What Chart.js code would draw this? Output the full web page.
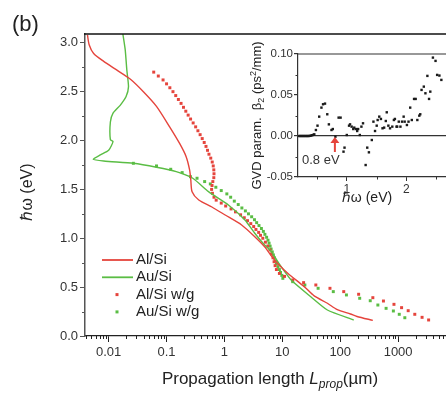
<!DOCTYPE html>
<html><head><meta charset="utf-8">
<script src="https://cdn.jsdelivr.net/npm/chart.js@4.4.0/dist/chart.umd.min.js"></script>
<style>
html,body{margin:0;padding:0;overflow:hidden;background:#fff;width:446px;height:394px;}
#main{position:absolute;left:0;top:0;}
#inset{position:absolute;left:240px;top:30px;}
</style></head><body>
<canvas id="main" width="460" height="394"></canvas>
<canvas id="inset" width="220" height="180"></canvas>
<script>
// ---------- DATA ----------
// Main plot: propagation length (µm) vs photon energy (eV)
const alSiL = [0.0043,0.0046,0.0055,0.0082,0.0139,0.0235,0.0398,0.067,0.113,0.168,0.218,0.25,0.262,0.276,0.36,0.607,1.03,1.98,3.34,5.0,6.44,8.4,12.4,23.9,35.5,60,89,150,195,366];
const alSiE = [3.08,2.98,2.89,2.81,2.72,2.63,2.50,2.35,2.14,1.97,1.835,1.70,1.60,1.477,1.392,1.32,1.238,1.136,1.016,0.91,0.82,0.74,0.642,0.505,0.41,0.335,0.27,0.225,0.20,0.16];

const auSiL = [0.0176,0.0193,0.0206,0.022,0.020,0.0158,0.0119,0.0107,0.0107,0.0119,0.010,0.0072,0.0054,0.0082,0.0267,0.067,0.147,0.284,0.53,1.17,2.26,3.34,4.64,6.44,9.55,14.2,31,60,171];
const auSiE = [3.09,2.93,2.72,2.55,2.45,2.36,2.28,2.19,2.01,1.99,1.90,1.853,1.808,1.79,1.767,1.727,1.682,1.614,1.477,1.341,1.187,1.051,0.949,0.863,0.709,0.573,0.402,0.266,0.164];

const alWgL = [0.060,0.072,0.087,0.100,0.114,0.129,0.144,0.160,0.178,0.196,0.215,0.236,0.260,0.288,0.318,0.348,0.380,0.413,0.447,0.48,0.51,0.54,0.58,0.615,0.64,0.655,0.66,0.655,0.63,0.61,0.60,0.62,0.66,0.72,0.88,1.05,1.3,1.55,1.9,2.2,2.5,2.85,3.2,3.5,3.9,4.2,4.6,5.1,5.6,6.1,6.5,6.9,7.2,7.5,7.9,8.9,10.9,15.1,23.3,37.9,66.5,115,208,366,558,848,1148,1493,1941,2594,3365];
const alWgE = [2.70,2.66,2.62,2.58,2.54,2.50,2.46,2.42,2.38,2.34,2.30,2.26,2.22,2.18,2.14,2.10,2.06,2.02,1.98,1.94,1.90,1.86,1.82,1.78,1.74,1.70,1.66,1.62,1.58,1.54,1.50,1.46,1.42,1.39,1.36,1.33,1.30,1.27,1.24,1.21,1.18,1.15,1.12,1.09,1.06,1.03,1.00,0.96,0.92,0.88,0.84,0.80,0.76,0.72,0.68,0.64,0.61,0.573,0.546,0.522,0.488,0.454,0.427,0.392,0.358,0.324,0.29,0.259,0.222,0.191,0.164];

const auWgL = [0.0267,0.067,0.118,0.186,0.259,0.336,0.455,0.57,0.71,0.88,1.10,1.28,1.48,1.73,2.0,2.3,2.6,2.95,3.3,3.6,3.95,4.35,4.7,5.0,5.35,5.65,5.9,6.15,6.4,6.7,7.0,7.3,7.6,7.9,8.4,8.9,9.3,9.8,10.2,15.1,24.5,41.5,75.9,128,217,330,447,620,828,1047,1306];
const auWgE = [1.767,1.74,1.706,1.672,1.63,1.614,1.58,1.556,1.522,1.488,1.454,1.42,1.38,1.345,1.31,1.28,1.25,1.22,1.19,1.16,1.13,1.10,1.07,1.04,1.01,0.98,0.95,0.92,0.89,0.86,0.83,0.80,0.77,0.74,0.71,0.68,0.65,0.62,0.59,0.556,0.522,0.488,0.454,0.42,0.386,0.361,0.317,0.283,0.256,0.222,0.187];

const seriesLabels = ['Al/Si','Au/Si','Al/Si w/g','Au/Si w/g'];
const xTickValues = [0.01,0.1,1,10,100,1000];
const yTickValues = [0,0.5,1,1.5,2,2.5,3];

// Inset: GVD parameter beta2 (ps^2/mm) vs photon energy (eV)
const gvdE = [0.20,0.22,0.24,0.26,0.28,0.30,0.32,0.34,0.36,0.38,0.40,0.42,0.44,0.454,0.481,0.508,0.536,0.574,0.601,0.634,0.672,0.699,0.743,0.765,0.809,0.863,0.896,0.945,0.962,1.0,1.038,1.055,1.082,1.109,1.126,1.153,1.175,1.191,1.219,1.246,1.273,1.317,1.344,1.372,1.421,1.448,1.475,1.503,1.519,1.546,1.574,1.601,1.628,1.656,1.672,1.699,1.727,1.765,1.792,1.809,1.836,1.847,1.874,1.902,1.929,1.956,1.973,2.011,2.038,2.066,2.093,2.131,2.158,2.186,2.219,2.235,2.257,2.295,2.322,2.355,2.383,2.404,2.448,2.492,2.519,2.557,2.590];
const gvdB = [0,0,0,0,0,0,0,0,0,0.0002,0.0005,0.001,0.0015,0.002,0.0073,0.0126,0.0236,0.0346,0.0387,0.0395,0.0265,0.0142,0.0073,0.0085,-0.0008,0.0224,0.0224,-0.0191,-0.0142,0.0012,0.0126,0.0142,0.0114,0.0085,0.0102,0.0085,0.0061,0.0085,0.0012,0.0114,0.0155,-0.0354,-0.0142,-0.0199,-0.0049,0.0175,0.0061,0.0126,0.0195,0.0236,0.0208,0.0094,0.0102,0.0183,0.0289,0.0126,0.0094,0.0114,0.0195,0.0208,0.0114,0.0114,0.0175,0.0114,0.0175,0.0236,0.0175,0.0134,0.0175,0.0346,0.0195,0.0452,0.0452,0.0195,0.0248,0.0265,0.0562,0.0602,0.0521,0.0733,0.0452,0.0541,0.0956,0.0916,0.0745,0.0737,0.0684];
const insetXTicks = [1,2];
const insetYTicks = [-0.05,0,0.05,0.10];
const markedEnergy = 0.8;

// ---------- STYLE ----------
const RED = '#e5443c', GREEN = '#5abd44';
const FONT = '"Liberation Sans", Arial, Helvetica, sans-serif';
Chart.defaults.font.family = FONT;
Chart.defaults.color = '#333';
const pairs = (xs, ys) => xs.map((v,i)=>({x:v, y:ys[i]}));

function drawPieces(ctx, pieces, cx, base) {
  let total = 0;
  pieces.forEach(p => { ctx.font = p.font; p.w = ctx.measureText(p.t).width; total += p.w; });
  let x = cx - total/2;
  ctx.textAlign = 'left'; ctx.textBaseline = 'alphabetic';
  pieces.forEach(p => { ctx.font = p.font; ctx.fillText(p.t, x, base + (p.dy||0)); x += p.w; });
}

const mainDecor = {
  id: 'mainDecor',
  afterDraw(chart) {
    const {ctx, chartArea:a, scales:{x, y}} = chart;
    ctx.save();
    // top frame
    ctx.strokeStyle = '#111'; ctx.lineWidth = 1.6;
    ctx.beginPath(); ctx.moveTo(a.left-1, a.top); ctx.lineTo(a.right, a.top); ctx.stroke();
    // minor ticks x
    ctx.lineWidth = 1; ctx.strokeStyle = '#222';
    for (let d = -3; d <= 4; d++) for (let m = 2; m <= 9; m++) {
      const v = m * Math.pow(10, d);
      if (v < x.min || v > x.max) continue;
      const px = Math.round(x.getPixelForValue(v)) + 0.5;
      ctx.beginPath(); ctx.moveTo(px, a.bottom); ctx.lineTo(px, a.bottom + 3); ctx.stroke();
    }
    // minor ticks y
    ctx.strokeStyle = '#555';
    for (let v = 0.25; v < y.max; v += 0.5) {
      const py = Math.round(y.getPixelForValue(v)) + 0.5;
      ctx.beginPath(); ctx.moveTo(a.left, py); ctx.lineTo(a.left - 3, py); ctx.stroke();
    }
    ctx.fillStyle = '#222';
    // y title
    ctx.save();
    ctx.translate(28, 192); ctx.rotate(-Math.PI/2);
    ctx.font = '16px ' + FONT; ctx.textAlign = 'center'; ctx.textBaseline = 'middle';
    ctx.fillText('\u210F\u03C9 (eV)', 0, 0);
    ctx.restore();
    // x title
    drawPieces(ctx, [
      {t:'Propagation length ', font:'17px ' + FONT},
      {t:'L', font:'italic 17px ' + FONT},
      {t:'prop', font:'italic 12px ' + FONT, dy:4},
      {t:'(\u00B5m)', font:'17px ' + FONT}
    ], 270, 384);
    // panel label
    ctx.font = '22px ' + FONT; ctx.textAlign = 'left'; ctx.textBaseline = 'alphabetic';
    ctx.fillText('(b)', 12, 31);
    // legend
    const ds = chart.data.datasets;
    ctx.font = '15px ' + FONT; ctx.textBaseline = 'middle';
    ds.forEach((d, i) => {
      const ly = 260 + i * 17.3;
      if (d.showLine) {
        ctx.strokeStyle = d.borderColor; ctx.lineWidth = 1.8;
        ctx.beginPath(); ctx.moveTo(102, ly); ctx.lineTo(133, ly); ctx.stroke();
      } else {
        ctx.fillStyle = d.backgroundColor;
        ctx.fillRect(115.5, ly - 1.5, 3, 3);
      }
      ctx.fillStyle = '#222';
      ctx.fillText(d.label, 136, ly);
    });
    ctx.restore();
  }
};

new Chart(document.getElementById('main'), {
  type: 'scatter',
  data: { datasets: [
    {label: seriesLabels[0], data: pairs(alSiL, alSiE), showLine: true, borderColor: RED, backgroundColor: RED, borderWidth: 1.4, pointRadius: 0, tension: 0.25},
    {label: seriesLabels[1], data: pairs(auSiL, auSiE), showLine: true, borderColor: GREEN, backgroundColor: GREEN, borderWidth: 1.4, pointRadius: 0, tension: 0.2},
    {label: seriesLabels[2], data: pairs(alWgL, alWgE), showLine: false, borderColor: RED, backgroundColor: RED, borderWidth: 0, pointStyle: 'rect', pointRadius: 2.1},
    {label: seriesLabels[3], data: pairs(auWgL, auWgE), showLine: false, borderColor: GREEN, backgroundColor: GREEN, borderWidth: 0, pointStyle: 'rect', pointRadius: 2.1}
  ]},
  options: {
    responsive: false, animation: false,
    layout: {padding: {top: 34, right: 0, left: 0, bottom: 0}},
    plugins: {legend: {display: false}, tooltip: {enabled: false}},
    scales: {
      x: {
        type: 'logarithmic', min: 0.0039, max: 10000,
        afterBuildTicks: s => { s.ticks = xTickValues.map(v => ({value: v})); },
        afterFit: s => { s.height = 58; },
        ticks: {callback: v => String(v), font: {size: 13}, color: '#333', padding: 3, maxRotation: 0, autoSkip: false},
        grid: {drawOnChartArea: false, drawTicks: true, tickLength: 6, tickColor: '#222', tickWidth: 1},
        border: {display: true, color: '#222', width: 1.3}
      },
      y: {
        min: 0, max: 3.09,
        afterBuildTicks: s => { s.ticks = yTickValues.map(v => ({value: v})); },
        afterFit: s => { s.width = 85; },
        ticks: {callback: v => v.toFixed(1), font: {size: 13}, color: '#333', padding: 2},
        grid: {drawOnChartArea: false, drawTicks: true, tickLength: 5, tickColor: '#555', tickWidth: 1},
        border: {display: true, color: '#555', width: 1.5}
      }
    }
  },
  plugins: [mainDecor]
});

const insetDecor = {
  id: 'insetDecor',
  afterDraw(chart) {
    const {ctx, chartArea:a, scales:{x, y}} = chart;
    ctx.save();
    ctx.strokeStyle = '#333'; ctx.lineWidth = 1.2;
    ctx.beginPath(); ctx.moveTo(a.left, a.top); ctx.lineTo(a.right, a.top); ctx.stroke();
    // minor ticks
    ctx.lineWidth = 1;
    for (let v = 0.5; v < x.max; v += 1) {
      const px = Math.round(x.getPixelForValue(v)) + 0.5;
      ctx.beginPath(); ctx.moveTo(px, a.bottom); ctx.lineTo(px, a.bottom + 2.5); ctx.stroke();
    }
    for (let v = -0.025; v < 0.1; v += 0.05) {
      const py = Math.round(y.getPixelForValue(v)) + 0.5;
      ctx.beginPath(); ctx.moveTo(a.left, py); ctx.lineTo(a.left - 2.5, py); ctx.stroke();
    }
    // arrow at marked energy
    const ax = x.getPixelForValue(markedEnergy);
    const yTop = y.getPixelForValue(-0.0013), yBot = y.getPixelForValue(-0.0195);
    ctx.strokeStyle = RED; ctx.fillStyle = RED; ctx.lineWidth = 2;
    ctx.beginPath(); ctx.moveTo(ax, yBot); ctx.lineTo(ax, yTop + 5); ctx.stroke();
    ctx.beginPath(); ctx.moveTo(ax - 4.5, yTop + 6); ctx.lineTo(ax + 4.5, yTop + 6); ctx.lineTo(ax, yTop); ctx.closePath(); ctx.fill();
    // label
    ctx.fillStyle = '#333'; ctx.font = '13px ' + FONT; ctx.textAlign = 'left'; ctx.textBaseline = 'middle';
    ctx.fillText(markedEnergy.toFixed(1) + ' eV', 62, 130);
    // x title
    ctx.fillStyle = '#222'; ctx.font = '14px ' + FONT; ctx.textAlign = 'center';
    ctx.fillText('\u210F\u03C9 (eV)', 127, 168);
    // y title
    ctx.save();
    ctx.translate(17, (a.top + a.bottom) / 2); ctx.rotate(-Math.PI/2);
    drawPieces(ctx, [
      {t:'GVD param.  \u03B2', font:'13px ' + FONT, dy:4},
      {t:'2', font:'9px ' + FONT, dy:7},
      {t:' (ps', font:'13px ' + FONT, dy:4},
      {t:'2', font:'9px ' + FONT, dy:-1},
      {t:'/mm)', font:'13px ' + FONT, dy:4}
    ], 0, 0);
    ctx.restore();
    ctx.restore();
  }
};

new Chart(document.getElementById('inset'), {
  type: 'scatter',
  data: { datasets: [
    {label: 'GVD', data: pairs(gvdE, gvdB), showLine: false, backgroundColor: '#1a1a1a', borderWidth: 0, pointStyle: 'rect', pointRadius: 1.7}
  ]},
  options: {
    responsive: false, animation: false,
    layout: {padding: {top: 24, right: 0, left: 0, bottom: 0}},
    plugins: {legend: {display: false}, tooltip: {enabled: false}},
    scales: {
      x: {
        min: 0.18, max: 2.836,
        afterBuildTicks: s => { s.ticks = insetXTicks.map(v => ({value: v})); },
        afterFit: s => { s.height = 33; },
        ticks: {callback: v => String(v), font: {size: 12}, color: '#333', padding: 1, maxRotation: 0, autoSkip: false},
        grid: {drawOnChartArea: false, tickLength: 4, tickColor: '#333'},
        border: {display: true, color: '#333', width: 1.2}
      },
      y: {
        min: -0.05, max: 0.10,
        afterBuildTicks: s => { s.ticks = insetYTicks.map(v => ({value: v})); },
        afterFit: s => { s.width = 58; },
        ticks: {callback: v => v.toFixed(2), font: {size: 11.5}, color: '#333', padding: 1},
        grid: {drawOnChartArea: true, color: c => (c.tick && c.tick.value === 0) ? '#333' : 'rgba(0,0,0,0)', lineWidth: 1.2, tickLength: 4, tickColor: '#333'},
        border: {display: true, color: '#333', width: 1.2}
      }
    }
  },
  plugins: [insetDecor]
});
</script></body></html>
